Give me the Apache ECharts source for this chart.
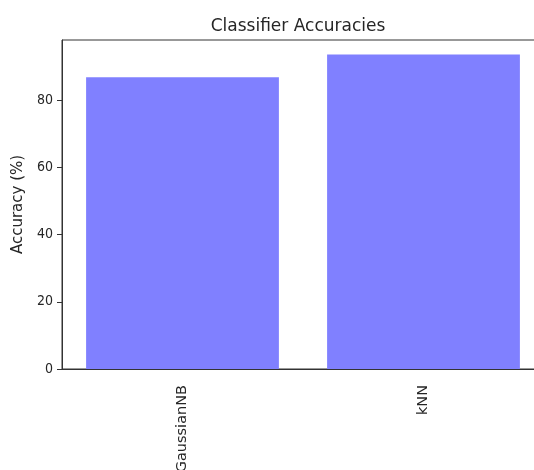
<!DOCTYPE html>
<html>
<head>
<meta charset="utf-8">
<script src="https://cdn.jsdelivr.net/npm/echarts@6/dist/echarts.min.js"></script>
<style>
html,body{margin:0;padding:0;background:#fff;}
#bar{width:534px;height:470px;}
</style>
</head>
<body>
<div id="bar"></div>
<script>
var classifiers = ['GaussianNB', 'kNN'];
var accuracies = [86.9, 93.7];
var yTicks = [0, 20, 40, 60, 80];

var myChart_1 = echarts.init(document.getElementById('bar'));
var option = {
	animation: false,
	title: {
		text: 'Classifier Accuracies',
		left: 293,
		textAlign: 'center',
		top: 13,
		textStyle: {fontFamily: 'DejaVu Sans', fontWeight: 'normal', fontSize: 17, color: '#262626'}
	},
	grid: {
		left: 62,
		top: 40,
		right: -10,
		bottom: 101,
		show: true,
		borderColor: '#333',
		borderWidth: 1,
		outerBoundsMode: 'none',
		containLabel: false
	},
	xAxis: {
		type: 'category',
		data: classifiers,
		axisLine: {lineStyle: {color: '#333', width: 1}},
		axisTick: {alignWithLabel: true, length: 5, lineStyle: {color: '#333'}},
		axisLabel: {
			rotate: 90,
			margin: 16,
			fontFamily: 'DejaVu Sans',
			fontSize: 14.5,
			color: '#262626'
		}
	},
	yAxis: {
		type: 'value',
		min: 0,
		max: 98,
		interval: 20,
		name: 'Accuracy (%)',
		nameLocation: 'middle',
		nameGap: 35,
		nameTextStyle: {fontFamily: 'DejaVu Sans', fontSize: 15, color: '#262626'},
		axisLine: {show: true, lineStyle: {color: '#333', width: 1}},
		axisTick: {show: true, length: 5, customValues: yTicks, lineStyle: {color: '#333'}},
		axisLabel: {customValues: yTicks, margin: 9, fontFamily: 'DejaVu Sans Condensed, DejaVu Sans', fontSize: 14, color: '#262626'},
		splitLine: {show: false}
	},
	series: [{
		type: 'bar',
		data: accuracies,
		barWidth: '80%',
		itemStyle: {color: '#8080ff'}
	}]
};
myChart_1.setOption(option);
</script>
</body>
</html>
